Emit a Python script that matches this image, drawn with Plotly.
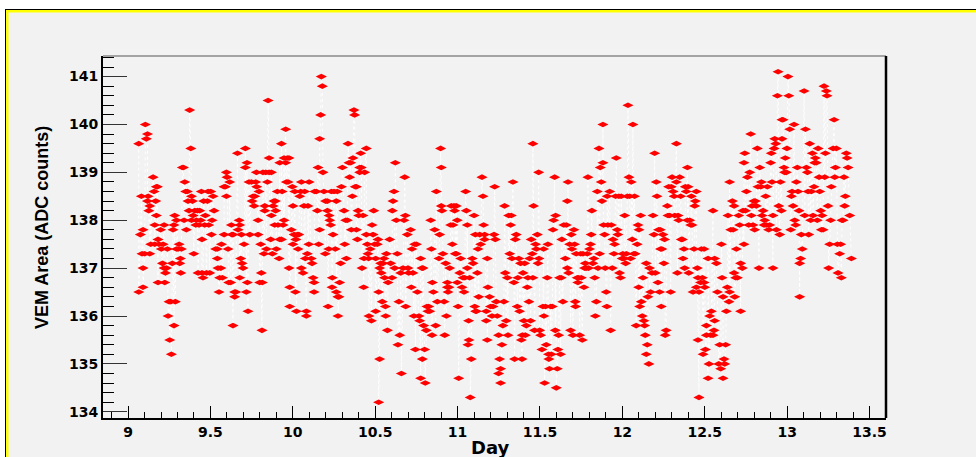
import plotly.graph_objects as go

# VEM area of one station over ~4.3 days (day-of-month, ADC counts)
days_a = [9.065, 9.065, 9.075, 9.081, 9.085, 9.091, 9.091, 9.091, 9.101, 9.105,
          9.111, 9.118, 9.122, 9.118, 9.126, 9.132, 9.132, 9.138, 9.152, 9.158,
          9.162, 9.162, 9.168, 9.172, 9.172, 9.178, 9.182, 9.182, 9.188, 9.198,
          9.202, 9.209, 9.213, 9.219, 9.219, 9.223, 9.227, 9.233, 9.239, 9.243,
          9.249, 9.253, 9.259, 9.263, 9.269, 9.273, 9.279, 9.279, 9.283, 9.287,
          9.294, 9.294, 9.304, 9.310, 9.314, 9.318, 9.320, 9.324, 9.330, 9.336,
          9.340, 9.344, 9.350, 9.354, 9.360, 9.364, 9.370, 9.374, 9.381, 9.385,
          9.385, 9.391, 9.395, 9.399, 9.405, 9.411, 9.415, 9.421, 9.425, 9.431,
          9.435, 9.441, 9.445, 9.449, 9.449, 9.455, 9.459, 9.465, 9.469, 9.476,
          9.482, 9.486, 9.490, 9.496, 9.502, 9.506, 9.510, 9.516, 9.522, 9.532,
          9.542, 9.542, 9.546, 9.552, 9.556, 9.563, 9.567, 9.573, 9.583, 9.583,
          9.591, 9.597, 9.597, 9.601, 9.607, 9.611, 9.617, 9.623, 9.627, 9.631,
          9.637, 9.637, 9.647, 9.647, 9.654, 9.664, 9.668, 9.674, 9.678, 9.678,
          9.684, 9.688, 9.692, 9.698, 9.704, 9.712, 9.712, 9.718, 9.722, 9.724,
          9.728, 9.734, 9.739, 9.749, 9.753, 9.759, 9.765, 9.769, 9.775, 9.779,
          9.781, 9.789, 9.789, 9.795, 9.799, 9.805, 9.809, 9.813, 9.815, 9.819,
          9.825, 9.830, 9.830, 9.836, 9.840, 9.846, 9.850, 9.856, 9.856, 9.866,
          9.870, 9.870, 9.876, 9.880, 9.886, 9.890, 9.894, 9.896, 9.900, 9.906,
          9.910, 9.917, 9.921, 9.921, 9.931, 9.931, 9.935, 9.941, 9.947, 9.947,
          9.957, 9.957, 9.961, 9.967, 9.971, 9.977, 9.977, 9.981, 9.981, 9.991,
          9.997, 10.001, 10.001, 10.008, 10.012, 10.016, 10.018, 10.022, 10.028, 10.032,
          10.036, 10.042, 10.048, 10.052, 10.052, 10.062, 10.068, 10.072, 10.076, 10.082,
          10.082, 10.088, 10.092, 10.097, 10.099]
area_a = [139.6, 136.5, 137.7, 138.5, 137.3, 137.8, 137.0, 136.6, 137.3, 140.0,
          139.7, 139.8, 138.5, 138.4, 138.2, 137.3, 138.3, 137.5, 138.9, 138.6,
          137.9, 137.5, 138.4, 138.7, 138.1, 138.7, 136.7, 137.6, 137.5, 137.8,
          137.4, 137.1, 137.5, 137.9, 137.0, 136.7, 136.9, 137.0, 137.4, 136.0,
          136.3, 135.5, 136.3, 135.2, 137.1, 137.8, 135.8, 137.9, 138.1, 136.3,
          137.4, 138.0, 137.4, 137.5, 137.1, 137.2, 136.9, 137.4, 139.1, 139.1,
          138.0, 138.8, 138.6, 137.8, 138.6, 138.4, 138.2, 140.3, 139.5, 138.5,
          138.0, 138.4, 138.1, 137.3, 138.2, 137.9, 138.0, 138.2, 136.9, 137.9,
          138.2, 138.0, 138.6, 137.6, 136.9, 136.8, 138.4, 137.9, 138.1, 136.9,
          138.4, 138.6, 137.9, 136.9, 138.6, 137.7, 138.0, 138.5, 138.2, 137.4,
          137.2, 137.4, 137.0, 136.5, 136.8, 137.0, 137.5, 136.8, 137.7, 138.7,
          138.7, 138.5, 139.0, 138.9, 137.4, 136.7, 138.8, 136.7, 137.9, 137.7,
          135.8, 137.7, 136.5, 136.4, 136.5, 139.4, 137.8, 138.0, 136.8, 137.9,
          137.2, 137.7, 137.1, 137.0, 137.5, 139.5, 139.1, 136.5, 139.2, 136.7,
          136.1, 138.8, 137.7, 138.8, 138.4, 138.5, 138.3, 138.5, 138.8, 139.0,
          138.7, 137.7, 138.0, 138.6, 136.7, 137.5, 136.9, 135.7, 136.7, 139.0,
          137.3, 138.2, 138.3, 139.0, 137.4, 138.8, 140.5, 139.3, 139.0, 137.6,
          139.0, 138.1, 137.3, 138.3, 138.4, 137.9, 138.4, 138.2, 137.4, 138.6,
          137.9, 137.2, 139.2, 137.6, 137.6, 139.6, 138.6, 137.9, 139.3, 138.0,
          139.9, 139.2, 138.8, 139.3, 138.8, 137.0, 139.3, 136.6, 136.2, 137.8,
          138.7, 138.3, 137.5, 137.7, 138.6, 136.5, 137.6, 136.1, 137.7, 137.4,
          137.7, 138.5, 138.6, 138.8, 137.0, 136.9, 138.3, 138.6, 137.2, 136.1,
          136.0, 137.3, 138.3, 137.5, 138.8]

days_b = [10.112, 10.117, 10.123, 10.129, 10.129, 10.133, 10.143, 10.149, 10.153, 10.157,
          10.163, 10.163, 10.169, 10.173, 10.179, 10.183, 10.189, 10.197, 10.199, 10.210,
          10.210, 10.214, 10.218, 10.220, 10.224, 10.230, 10.234, 10.238, 10.240, 10.244,
          10.250, 10.258, 10.264, 10.264, 10.270, 10.274, 10.274, 10.280, 10.284, 10.290,
          10.295, 10.301, 10.311, 10.315, 10.321, 10.325, 10.331, 10.335, 10.341, 10.345,
          10.351, 10.355, 10.361, 10.365, 10.371, 10.375, 10.379, 10.386, 10.386, 10.392,
          10.396, 10.400, 10.406, 10.406, 10.412, 10.416, 10.420, 10.426, 10.430, 10.432,
          10.436, 10.446, 10.446, 10.452, 10.456, 10.460, 10.462, 10.470, 10.477, 10.481,
          10.487, 10.491, 10.497, 10.503, 10.503, 10.513, 10.517, 10.521, 10.527, 10.527,
          10.521, 10.533, 10.537, 10.543, 10.547, 10.553, 10.557, 10.562, 10.564, 10.568,
          10.574, 10.578, 10.588, 10.594, 10.602, 10.604, 10.608, 10.614, 10.618, 10.622,
          10.628, 10.634, 10.638, 10.644, 10.649, 10.655, 10.659, 10.669, 10.675, 10.679,
          10.683, 10.685, 10.695, 10.699, 10.703, 10.715, 10.719, 10.723, 10.729, 10.735,
          10.740, 10.744, 10.750, 10.756, 10.766, 10.770, 10.776, 10.776, 10.784, 10.786,
          10.790, 10.794, 10.800, 10.804, 10.810, 10.814, 10.820, 10.825, 10.831, 10.837,
          10.841, 10.845, 10.847, 10.853, 10.861, 10.867, 10.871, 10.877, 10.887, 10.891,
          10.897, 10.901, 10.901, 10.905, 10.911, 10.918, 10.922, 10.928, 10.932, 10.938,
          10.938, 10.942, 10.948, 10.952, 10.958, 10.962, 10.968, 10.972, 10.978, 10.982,
          10.986, 10.992, 10.992, 10.998, 10.998, 11.003, 11.007, 11.013, 11.019, 11.027,
          11.033, 11.039, 11.043, 11.049, 11.053, 11.059, 11.059, 11.063, 11.067, 11.069,
          11.073, 11.077, 11.083, 11.089, 11.094, 11.100, 11.104, 11.108, 11.110, 11.114,
          11.120, 11.124, 11.128, 11.134, 11.140, 11.148, 11.154, 11.158, 11.164, 11.164,
          11.174, 11.174, 11.180, 11.180, 11.184]
area_b = [137.2, 137.1, 136.8, 136.7, 136.5, 138.6, 138.6, 138.2, 139.1, 137.5,
          137.8, 139.7, 140.2, 141.0, 140.8, 139.0, 138.6, 137.3, 138.4, 138.4,
          138.2, 136.2, 137.4, 138.1, 138.0, 137.9, 138.6, 136.6, 136.8, 137.7,
          138.6, 137.4, 138.4, 136.5, 138.6, 136.4, 136.0, 136.4, 136.7, 137.1,
          138.7, 139.1, 138.2, 137.5, 138.0, 137.2, 138.0, 139.6, 139.2, 138.9,
          139.2, 137.8, 138.5, 139.3, 140.3, 140.2, 138.7, 138.7, 137.8, 137.6,
          138.2, 138.1, 139.0, 139.1, 139.4, 139.1, 137.0, 138.1, 136.6, 137.2,
          139.0, 139.5, 137.7, 137.5, 137.3, 137.2, 136.0, 137.4, 135.9, 137.9,
          137.7, 138.2, 137.5, 137.2, 136.1, 137.5, 137.6, 136.5, 135.1, 137.0,
          134.2, 137.1, 136.9, 136.3, 137.1, 137.2, 136.8, 136.2, 136.0, 137.3,
          135.7, 136.7, 137.6, 137.1, 136.8, 138.2, 138.4, 138.6, 137.0, 139.2,
          138.0, 137.3, 135.4, 136.3, 135.6, 136.9, 134.8, 137.0, 138.0, 138.9,
          138.1, 136.2, 137.7, 137.0, 136.9, 137.8, 136.6, 137.4, 136.9, 136.0,
          137.5, 135.3, 137.5, 136.5, 136.0, 135.9, 134.7, 137.2, 137.0, 135.1,
          137.0, 135.8, 135.3, 134.6, 135.7, 136.2, 136.1, 136.2, 136.1, 138.0,
          137.4, 135.6, 136.7, 136.5, 137.8, 135.8, 138.6, 136.3, 137.2, 137.7,
          139.5, 138.3, 139.1, 138.2, 137.3, 136.3, 135.6, 137.1, 136.0, 136.7,
          136.6, 136.5, 136.6, 137.0, 137.9, 138.3, 137.5, 137.9, 138.3, 138.2,
          137.3, 138.3, 137.3, 138.0, 136.7, 136.2, 134.7, 136.9, 137.2, 136.6,
          136.8, 136.5, 136.8, 138.6, 138.2, 137.0, 137.9, 135.4, 135.9, 135.5,
          136.8, 134.3, 135.1, 137.2, 137.1, 138.1, 136.2, 137.7, 136.1, 136.1,
          136.9, 137.4, 136.4, 137.7, 137.5, 138.9, 138.5, 137.9, 137.7, 137.6,
          136.1, 135.9, 137.2, 135.5, 136.6]

days_c = [11.194, 11.200, 11.209, 11.215, 11.221, 11.225, 11.229, 11.235, 11.241, 11.249,
          11.249, 11.255, 11.261, 11.261, 11.269, 11.275, 11.281, 11.285, 11.289, 11.295,
          11.302, 11.306, 11.310, 11.316, 11.322, 11.326, 11.330, 11.336, 11.342, 11.346,
          11.350, 11.356, 11.362, 11.366, 11.372, 11.376, 11.382, 11.387, 11.391, 11.393,
          11.397, 11.403, 11.407, 11.411, 11.417, 11.423, 11.427, 11.433, 11.437, 11.443,
          11.447, 11.453, 11.457, 11.457, 11.461, 11.467, 11.473, 11.478, 11.484, 11.488,
          11.492, 11.494, 11.498, 11.504, 11.512, 11.518, 11.522, 11.524, 11.528, 11.534,
          11.538, 11.544, 11.548, 11.552, 11.554, 11.558, 11.565, 11.569, 11.575, 11.579,
          11.583, 11.589, 11.593, 11.595, 11.599, 11.605, 11.609, 11.613, 11.619, 11.625,
          11.629, 11.633, 11.639, 11.645, 11.654, 11.660, 11.666, 11.666, 11.670, 11.674,
          11.680, 11.686, 11.690, 11.694, 11.700, 11.706, 11.710, 11.714, 11.716, 11.720,
          11.726, 11.730, 11.734, 11.741, 11.747, 11.751, 11.757, 11.761, 11.767, 11.771,
          11.775, 11.781, 11.787, 11.791, 11.795, 11.801, 11.807, 11.811, 11.815, 11.821,
          11.827, 11.832, 11.836, 11.842, 11.848, 11.852, 11.858, 11.862, 11.866, 11.872,
          11.876, 11.882, 11.882, 11.886, 11.892, 11.896, 11.902, 11.906, 11.908, 11.912,
          11.923, 11.929, 11.933, 11.939, 11.943, 11.949, 11.953, 11.959, 11.963, 11.969,
          11.973, 11.979, 11.983, 11.989, 11.993, 11.999, 12.003, 12.010, 12.014, 12.020,
          12.024, 12.030, 12.034, 12.040, 12.044, 12.050, 12.054, 12.060, 12.064, 12.070,
          12.074, 12.078, 12.084, 12.090, 12.095, 12.099, 12.101, 12.105, 12.111, 12.115,
          12.121, 12.125, 12.131, 12.135, 12.139, 12.145, 12.145, 12.151, 12.155, 12.161,
          12.165, 12.171, 12.180, 12.186, 12.192, 12.196, 12.200, 12.206, 12.210, 12.216,
          12.220, 12.226, 12.230, 12.232, 12.236, 12.240, 12.246, 12.252, 12.256, 12.260,
          12.266, 12.273, 12.277, 12.281]
area_c = [136.4, 136.2, 136.0, 136.2, 137.7, 138.7, 137.6, 136.3, 136.0, 135.6,
          134.8, 135.1, 134.9, 134.6, 135.4, 135.8, 136.3, 138.3, 136.9, 135.9,
          136.8, 135.6, 138.1, 137.3, 137.9, 138.1, 137.2, 138.8, 136.7, 135.1,
          137.6, 137.7, 136.2, 136.8, 137.2, 136.1, 137.1, 135.5, 135.1, 135.6,
          136.9, 135.9, 137.1, 135.6, 135.8, 136.6, 136.8, 136.3, 137.2, 135.9,
          137.6, 137.3, 136.8, 139.6, 138.3, 135.7, 137.5, 137.4, 137.7, 137.1,
          139.0, 137.2, 135.7, 135.6, 135.3, 136.2, 137.4, 136.0, 134.6, 136.2,
          135.4, 136.8, 137.5, 135.2, 135.1, 134.9, 136.2, 135.2, 136.2, 137.8,
          138.0, 138.9, 135.7, 138.1, 134.5, 134.9, 135.3, 135.6, 136.8, 135.2,
          136.8, 137.6, 136.3, 137.9, 137.2, 137.9, 137.0, 138.4, 138.8, 136.9,
          137.5, 135.7, 137.7, 137.4, 135.6, 137.8, 137.5, 136.3, 136.2, 137.3,
          136.8, 136.7, 136.8, 135.6, 137.3, 136.8, 135.5, 137.3, 136.6, 137.0,
          137.1, 137.0, 137.3, 138.9, 137.0, 137.4, 137.5, 137.7, 138.2, 137.1,
          137.2, 136.8, 136.0, 136.3, 138.6, 137.0, 139.5, 137.3, 139.1, 138.8,
          138.4, 139.2, 140.0, 137.9, 137.7, 137.0, 136.5, 136.2, 138.5, 137.9,
          138.6, 135.7, 137.9, 137.0, 137.6, 137.3, 137.5, 138.5, 139.3, 137.8,
          137.7, 138.5, 136.9, 136.8, 138.5, 137.2, 137.3, 137.2, 138.1, 137.1,
          137.3, 138.5, 140.4, 138.9, 138.5, 137.2, 138.8, 137.6, 140.0, 137.3,
          138.5, 137.3, 135.8, 137.5, 137.9, 136.6, 137.8, 136.2, 138.1, 136.3,
          136.0, 136.8, 135.9, 135.8, 135.6, 137.1, 135.2, 135.4, 136.4, 135.0,
          137.0, 136.5, 136.9, 138.1, 137.7, 139.4, 136.9, 138.8, 138.5, 136.7,
          137.8, 136.5, 137.8, 137.4, 136.2, 137.4, 137.7, 137.1, 137.6, 135.6,
          135.7, 138.3, 138.1, 138.7]

days_d = [12.287, 12.293, 12.297, 12.302, 12.308, 12.314, 12.318, 12.328, 12.328, 12.334,
          12.338, 12.342, 12.348, 12.354, 12.358, 12.364, 12.368, 12.374, 12.378, 12.382,
          12.388, 12.395, 12.395, 12.399, 12.403, 12.409, 12.415, 12.419, 12.423, 12.429,
          12.435, 12.439, 12.443, 12.449, 12.449, 12.455, 12.459, 12.459, 12.465, 12.465,
          12.475, 12.480, 12.486, 12.490, 12.496, 12.496, 12.500, 12.504, 12.510, 12.510,
          12.520, 12.520, 12.526, 12.530, 12.536, 12.540, 12.550, 12.550, 12.556, 12.560,
          12.560, 12.571, 12.577, 12.585, 12.591, 12.597, 12.601, 12.605, 12.611, 12.611,
          12.617, 12.621, 12.627, 12.631, 12.637, 12.641, 12.647, 12.651, 12.651, 12.658,
          12.668, 12.672, 12.678, 12.678, 12.682, 12.688, 12.692, 12.698, 12.706, 12.712,
          12.718, 12.718, 12.728, 12.732, 12.738, 12.738, 12.743, 12.747, 12.753, 12.759,
          12.767, 12.773, 12.779, 12.783, 12.787, 12.793, 12.799, 12.803, 12.807, 12.813,
          12.819, 12.823, 12.829, 12.834, 12.840, 12.844, 12.848, 12.854, 12.860, 12.864,
          12.870, 12.874, 12.880, 12.888, 12.894, 12.900, 12.904, 12.908, 12.914, 12.914,
          12.921, 12.925, 12.931, 12.935, 12.941, 12.945, 12.949, 12.955, 12.959, 12.965,
          12.969, 12.969, 12.975, 12.981, 12.985, 12.989, 12.995, 12.999, 13.005, 13.010,
          13.016, 13.022, 13.026, 13.030, 13.036, 13.042, 13.046, 13.052, 13.056, 13.062,
          13.066, 13.072, 13.076, 13.076, 13.082, 13.086, 13.092, 13.103, 13.107, 13.111,
          13.117, 13.123, 13.127, 13.131, 13.137, 13.143, 13.147, 13.153, 13.157, 13.163,
          13.167, 13.171, 13.177, 13.183, 13.188, 13.194, 13.198, 13.204, 13.208, 13.212,
          13.218, 13.224, 13.228, 13.232, 13.238, 13.242, 13.248, 13.252, 13.258, 13.264,
          13.268, 13.279, 13.285, 13.289, 13.293, 13.299, 13.305, 13.309, 13.319, 13.325,
          13.329, 13.333, 13.339, 13.345, 13.349, 13.353, 13.359, 13.364, 13.370, 13.380,
          13.390]
area_d = [138.1, 136.5, 138.7, 138.9, 138.6, 138.5, 138.1, 139.6, 138.8, 136.9,
          138.1, 138.0, 138.9, 138.5, 137.6, 137.6, 137.2, 137.4, 137.0, 138.7,
          138.6, 139.1, 138.0, 138.7, 136.9, 138.0, 137.9, 138.5, 137.9, 136.5,
          137.4, 138.3, 138.4, 138.6, 136.6, 137.0, 135.5, 136.8, 134.3, 136.5,
          136.7, 137.4, 136.8, 135.2, 137.4, 136.7, 136.6, 135.3, 135.8, 135.6,
          134.7, 137.2, 135.0, 136.0, 135.6, 136.1, 138.2, 135.6, 135.7, 135.9,
          137.2, 137.1, 136.5, 135.0, 135.4, 134.9, 137.5, 136.8, 136.4, 134.7,
          135.1, 135.0, 135.4, 136.1, 136.6, 138.1, 136.3, 138.8, 136.5, 137.8,
          138.4, 137.8, 138.3, 136.9, 136.4, 136.8, 137.4, 136.8, 138.1, 137.9,
          136.1, 137.1, 137.0, 138.2, 137.5, 139.2, 139.4, 138.2, 138.6, 138.9,
          137.9, 139.0, 139.8, 138.1, 138.3, 137.9, 138.4, 137.8, 138.4, 138.3,
          139.5, 138.7, 137.0, 139.1, 138.7, 138.8, 138.1, 138.2, 137.9, 138.0,
          138.5, 137.9, 138.7, 137.8, 137.9, 139.2, 139.4, 138.8, 137.0, 138.1,
          139.5, 139.7, 139.6, 137.8, 140.6, 141.1, 138.3, 137.7, 138.8, 138.2,
          139.7, 140.1, 140.1, 139.1, 139.0, 139.3, 139.0, 139.5, 141.0, 140.6,
          139.9, 137.8, 138.5, 138.6, 138.3, 140.0, 138.0, 137.9, 138.8, 139.1,
          138.6, 138.2, 136.4, 137.1, 137.2, 137.7, 137.4, 140.7, 138.1, 139.9,
          139.1, 139.0, 138.6, 137.7, 139.6, 138.0, 138.6, 139.4, 138.1, 138.7,
          139.2, 139.3, 139.2, 138.0, 139.5, 138.9, 138.6, 138.2, 137.8, 138.1,
          137.8, 140.8, 138.9, 139.4, 140.7, 140.6, 138.3, 137.0, 137.5, 138.0,
          138.7, 139.5, 140.1, 138.9, 139.1, 139.5, 137.5, 136.9, 137.3, 137.5,
          136.8, 138.0, 138.0, 138.9, 138.3, 138.5, 139.4, 139.3, 139.1, 138.1,
          137.2]

x_ticks = [9, 9.5, 10, 10.5, 11, 11.5, 12, 12.5, 13, 13.5]
y_ticks = [134, 135, 136, 137, 138, 139, 140, 141]

days = days_a + days_b + days_c + days_d
area = area_a + area_b + area_c + area_d
assert len(days) == len(area)
order = sorted(range(len(days)), key=lambda i: days[i])
days = [days[i] for i in order]
area = [area[i] for i in order]

# canvas size and frame box (pixels); paper spans the whole canvas
W, H = 976, 457
FX0, FX1, FY0, FY1 = 103, 886, 56, 418


def px(X):
    return X / W


def py(Y):
    return 1 - Y / H


fig = go.Figure()
fig.add_trace(go.Scatter(
    x=days, y=area, mode="lines+markers",
    line=dict(color="white", width=1, dash="dot"),
    marker=dict(symbol="diamond-wide", size=8, color="#ff0000", line=dict(width=0)),
    showlegend=False, hoverinfo="x+y",
))

tick_font = dict(family="DejaVu Sans", size=14, color="black", weight="bold")

fig.update_xaxes(
    domain=[px(FX0), px(FX1)], automargin=False,
    range=[8.848, 13.6], tickvals=x_ticks, ticktext=[f"{v:g}" for v in x_ticks],
    ticks="inside", ticklen=12, tickwidth=1, tickcolor="black",
    minor=dict(ticks="inside", ticklen=6, dtick=0.1, tick0=9, tickcolor="black"),
    showline=True, linecolor="black", linewidth=2, showgrid=False, zeroline=False,
    tickfont=tick_font,
)
fig.update_yaxes(
    domain=[py(FY1), py(FY0)], automargin=False,
    range=[133.87, 141.43], tickvals=y_ticks,
    ticks="inside", ticklen=24, tickwidth=1, tickcolor="#333",
    minor=dict(ticks="inside", ticklen=11, dtick=0.2, tick0=134, tickcolor="black"),
    showline=True, linecolor="black", linewidth=2, showgrid=False, zeroline=False,
    tickfont=tick_font,
)

shapes = [
    # white strips above and left of the canvas frame
    dict(type="rect", xref="paper", yref="paper", x0=0, x1=1, y0=py(9), y1=1,
         fillcolor="white", line=dict(width=0), layer="above"),
    dict(type="rect", xref="paper", yref="paper", x0=0, x1=px(5), y0=0, y1=1,
         fillcolor="white", line=dict(width=0), layer="above"),
    # black outer edge and yellow border
    dict(type="line", xref="paper", yref="paper", x0=px(5), x1=1, y0=py(9.5), y1=py(9.5),
         line=dict(color="black", width=1), layer="above"),
    dict(type="line", xref="paper", yref="paper", x0=px(5.5), x1=px(5.5), y0=0, y1=py(9.5),
         line=dict(color="black", width=1), layer="above"),
    dict(type="line", xref="paper", yref="paper", x0=px(6), x1=1, y0=py(11.2), y1=py(11.2),
         line=dict(color="#ffff00", width=2.5), layer="above"),
    dict(type="line", xref="paper", yref="paper", x0=px(7.3), x1=px(7.3), y0=0, y1=py(10),
         line=dict(color="#ffff00", width=2.5), layer="above"),
    # plot frame: top edge and heavy right edge
    dict(type="line", xref="paper", yref="paper", x0=px(FX0), x1=px(FX1), y0=py(FY0), y1=py(FY0),
         line=dict(color="#555", width=1), layer="above"),
    dict(type="line", xref="paper", yref="paper", x0=px(FX1), x1=px(FX1), y0=py(FY1), y1=py(FY0),
         line=dict(color="black", width=2.5), layer="above"),
]

fig.update_layout(
    width=W, height=H,
    margin=dict(l=0, r=0, t=0, b=0, pad=0),
    paper_bgcolor="#f2f2f2", plot_bgcolor="#f2f2f2",
    shapes=shapes,
    annotations=[
        dict(text="Day", x=px(490), y=py(447), xref="paper", yref="paper",
             showarrow=False, xanchor="center", yanchor="middle",
             font=dict(family="DejaVu Sans", size=18, color="black", weight="bold")),
        dict(text="VEM Area (ADC counts)", x=px(42), y=py(228), xref="paper", yref="paper",
             showarrow=False, textangle=-90, xanchor="center", yanchor="middle",
             font=dict(family="Liberation Sans", size=18, color="black", weight="bold")),
    ],
)

fig.write_html("out.html")
